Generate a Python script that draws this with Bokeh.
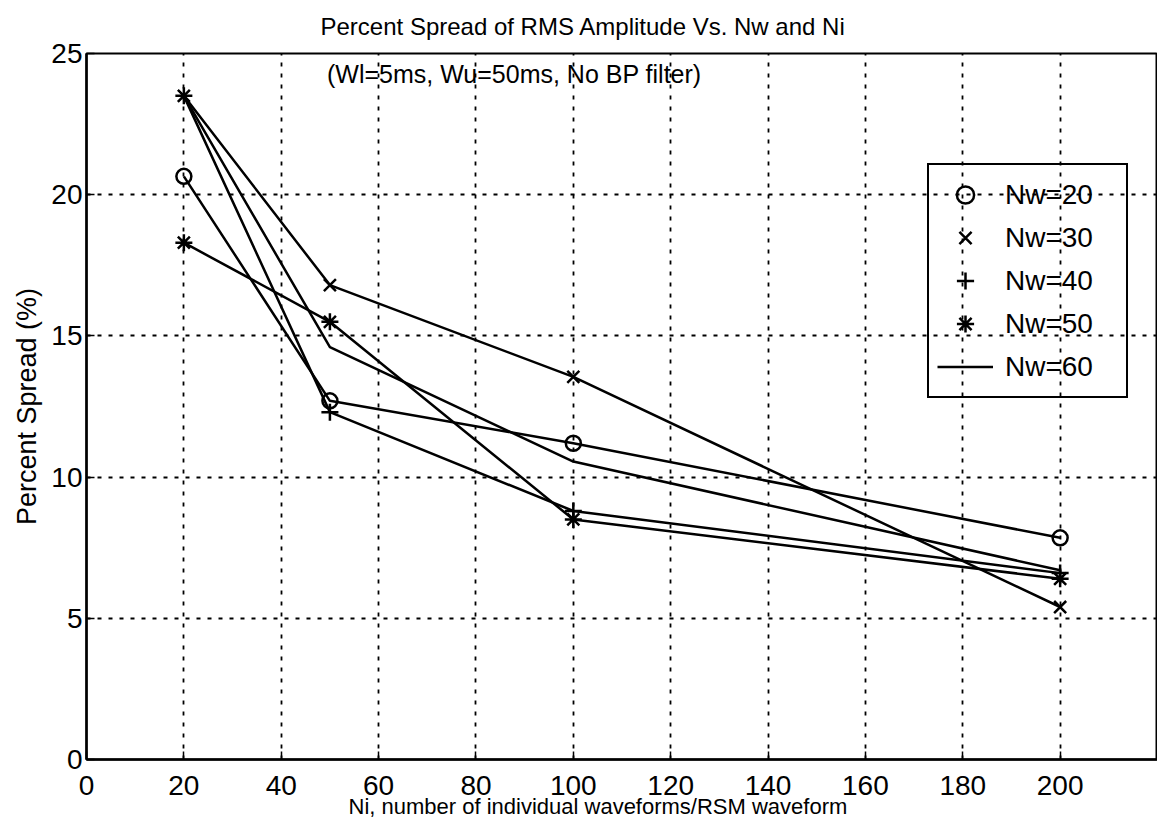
from bokeh.plotting import figure
from bokeh.models import Legend, LegendItem, Label, Title, FixedTicker
from bokeh.embed import file_html
from bokeh.resources import INLINE

# ---- data ----
ni = [20, 50, 100, 200]
nw20 = [20.65, 12.7, 11.2, 7.85]
nw30 = [23.5, 16.8, 13.55, 5.4]
nw40 = [23.5, 12.3, 8.8, 6.6]
nw50 = [18.3, 15.5, 8.5, 6.4]
nw60 = [23.5, 14.6, 10.55, 6.7]
x_ticks = [0, 20, 40, 60, 80, 100, 120, 140, 160, 180, 200]
y_ticks = [0, 5, 10, 15, 20, 25]
title_text = "Percent Spread of RMS Amplitude Vs. Nw and Ni"
subtitle_text = "(Wl=5ms, Wu=50ms, No BP filter)"
xlabel_text = "Ni, number of individual waveforms/RSM waveform"
ylabel_text = "Percent Spread (%)"

FONT = "Liberation Sans"

p = figure(width=1157, height=824, x_range=(0, 220), y_range=(0, 25),
           output_backend="svg", toolbar_location=None,
           min_border_left=86, min_border_right=0, min_border_top=53,
           min_border_bottom=65)

p.title = Title(text=title_text, align="left", offset=234,
                text_font=FONT, text_font_size="24px", text_font_style="normal",
                text_color="black", standoff=24, vertical_align="top")

p.add_layout(Title(text=xlabel_text, align="left", offset=262,
                   text_font=FONT, text_font_size="22px", text_font_style="normal",
                   text_color="black", standoff=-11), "below")

p.background_fill_color = "white"
p.border_fill_color = "white"
p.outline_line_color = "black"
p.outline_line_width = 2

for ax in (p.xaxis[0], p.yaxis[0]):
    ax.axis_line_color = "black"
    ax.axis_line_width = 2.5
    ax.major_tick_in = 8
    ax.major_tick_out = 0
    ax.minor_tick_in = 0
    ax.minor_tick_out = 0
    ax.major_tick_line_color = "black"
    ax.major_tick_line_width = 1.5
    ax.major_label_text_font = FONT
    ax.major_label_text_font_size = "28px"
    ax.major_label_text_color = "black"

p.xaxis.ticker = FixedTicker(ticks=x_ticks)
p.yaxis.ticker = FixedTicker(ticks=y_ticks)
p.xaxis.major_label_standoff = 16
p.yaxis.major_label_standoff = 4

p.yaxis.axis_label = ylabel_text
p.yaxis.axis_label_text_font = FONT
p.yaxis.axis_label_text_font_size = "27px"
p.yaxis.axis_label_text_font_style = "normal"
p.yaxis.axis_label_text_color = "black"
p.yaxis.axis_label_standoff = 6

for g in (p.xgrid[0], p.ygrid[0]):
    g.grid_line_color = "black"
    g.grid_line_width = 1.8
    g.grid_line_dash = "4 7"
p.xgrid.ticker = FixedTicker(ticks=x_ticks)
p.ygrid.ticker = FixedTicker(ticks=y_ticks)

LW = 2.5
for ys in (nw20, nw30, nw40, nw50):
    p.line(ni, ys, line_color="black", line_width=LW)
r60 = p.line(ni, nw60, line_color="black", line_width=LW)

r20 = p.scatter(ni, nw20, marker="circle", size=15, fill_color=None,
                line_color="black", line_width=LW)
r30 = p.scatter(ni, nw30, marker="x", size=17, line_color="black", line_width=LW)
r40 = p.scatter(ni, nw40, marker="cross", size=17, line_color="black", line_width=LW)
r50 = p.scatter(ni, nw50, marker="asterisk", size=17, line_color="black", line_width=LW)

legend = Legend(items=[
    LegendItem(label="Nw=20", renderers=[r20]),
    LegendItem(label="Nw=30", renderers=[r30]),
    LegendItem(label="Nw=40", renderers=[r40]),
    LegendItem(label="Nw=50", renderers=[r50]),
    LegendItem(label="Nw=60", renderers=[r60]),
], location=(841, 361))
legend.background_fill_alpha = 0
legend.border_line_color = "black"
legend.border_line_alpha = 1
legend.border_line_width = 2.5
legend.label_text_font = FONT
legend.label_text_font_size = "28px"
legend.label_text_color = "black"
legend.padding = 8
legend.spacing = 0
legend.margin = 0
legend.glyph_width = 56
legend.glyph_height = 43
legend.label_height = 43
legend.label_width = 113
legend.label_standoff = 12
p.add_layout(legend, "center")

p.add_layout(Label(x=49.4, y=24.27, text=subtitle_text, text_font=FONT,
                   text_font_size="25px", text_color="black",
                   text_align="left", text_baseline="middle"))

open("out.html", "w").write(file_html(p, INLINE))
